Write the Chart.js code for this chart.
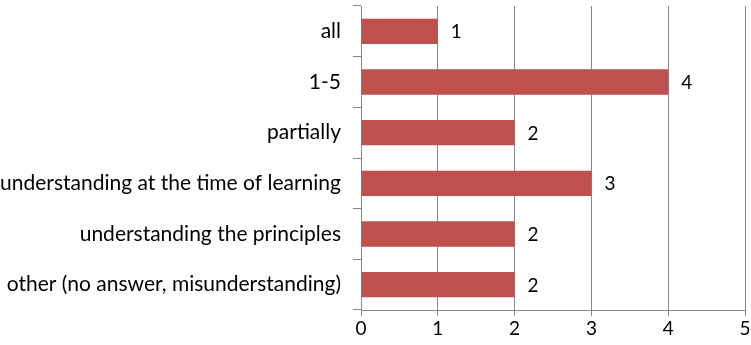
<!DOCTYPE html>
<html>
<head>
<meta charset="utf-8">
<script src="https://cdn.jsdelivr.net/npm/chart.js@4/dist/chart.umd.min.js"></script>
<style>
    html, body { margin: 0; padding: 0; background: #ffffff; }
    #wrap { width: 751px; height: 345px; }
</style>
</head>
<body>
<div id="wrap"><canvas id="answersChart"></canvas></div>
<script>
const categories = [
    "all",
    "1-5",
    "partially",
    "understanding at the time of learning",
    "understanding the principles",
    "other (no answer, misunderstanding)"
];
const answerCounts = [1, 4, 2, 3, 2, 2];
const xTicks = [0, 1, 2, 3, 4, 5];

const FONT = "Lato, 'Open Sans', sans-serif";

// writes the count just past the end of each bar
const barValueLabels = {
    id: "barValueLabels",
    afterDatasetsDraw(chart) {
        const ctx = chart.ctx;
        const meta = chart.getDatasetMeta(0);
        ctx.save();
        ctx.fillStyle = "#000000";
        ctx.font = "19px " + FONT;
        ctx.textAlign = "left";
        ctx.textBaseline = "middle";
        meta.data.forEach((bar, i) => {
            ctx.fillText(String(answerCounts[i]), bar.x + 13, bar.y + 1);
        });
        ctx.restore();
    }
};

new Chart(document.getElementById("answersChart"), {
    type: "bar",
    data: {
        labels: categories,
        datasets: [{
            data: answerCounts,
            backgroundColor: "#c0504d",
            borderWidth: 0,
            categoryPercentage: 1,
            barPercentage: 0.5
        }]
    },
    options: {
        indexAxis: "y",
        responsive: true,
        maintainAspectRatio: false,
        animation: false,
        layout: { padding: { top: 6, right: 6, left: 0, bottom: 0 } },
        plugins: {
            legend: { display: false },
            tooltip: { enabled: false }
        },
        scales: {
            x: {
                min: 0,
                max: 5,
                afterBuildTicks: axis => {
                    axis.ticks = xTicks.map(v => ({ value: v }));
                },
                afterFit: axis => {
                    axis.height = 35;
                    axis.paddingLeft = 0;
                    axis.paddingRight = 0;
                },
                border: { color: "#868686", width: 1 },
                grid: {
                    color: "#868686",
                    lineWidth: 1,
                    drawTicks: true,
                    tickLength: 6
                },
                ticks: {
                    color: "#000000",
                    font: { family: FONT, size: 19 },
                    padding: 1
                }
            },
            y: {
                afterFit: axis => {
                    axis.width = 361;
                    axis.paddingTop = 0;
                    axis.paddingBottom = 0;
                },
                border: { color: "#868686", width: 1 },
                grid: {
                    offset: true,
                    drawOnChartArea: false,
                    color: "#868686",
                    tickLength: 8
                },
                ticks: {
                    color: "#000000",
                    font: { family: FONT, size: 21 },
                    padding: 12
                }
            }
        }
    },
    plugins: [barValueLabels]
});
</script>
</body>
</html>
